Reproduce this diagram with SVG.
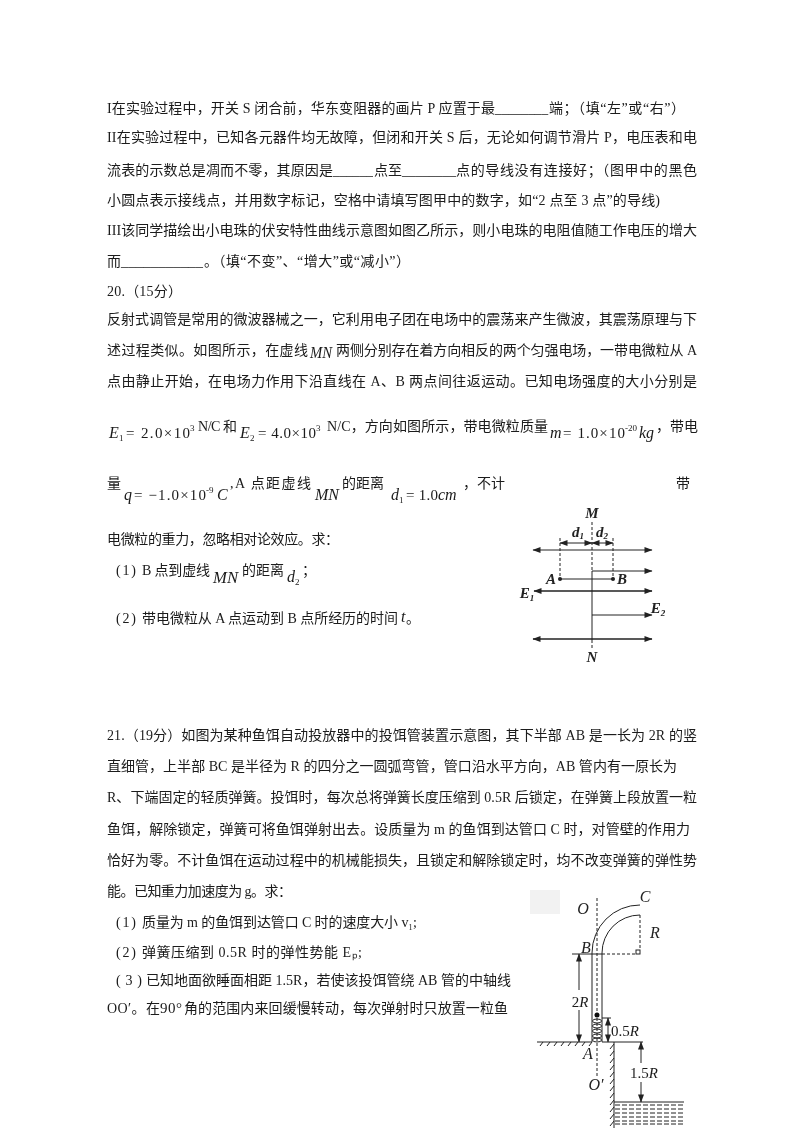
<svg xmlns="http://www.w3.org/2000/svg" width="800" height="1132" viewBox="0 0 800 1132">
<style>
text{font-family:"Liberation Serif","Noto Sans CJK SC",serif;font-size:14px;fill:#1a1a1a}
.m{font-style:italic;font-size:16px}
.n{font-size:15px}
.s{font-size:9px}
.f{font-style:italic;font-size:15px;font-weight:bold;fill:#222}
.l{font-size:16px;fill:#222}
.a{fill:none;stroke:#222;stroke-width:1}
.t{stroke-width:1.6}
.d{stroke-dasharray:3 2}
</style>
<defs>
<filter id="soft" x="0" y="0" width="100%" height="100%"><feGaussianBlur stdDeviation="0.45"/></filter>
<marker id="ah" viewBox="0 0 8 6" refX="7.5" refY="3" markerWidth="9" markerHeight="6" markerUnits="userSpaceOnUse" orient="auto-start-reverse"><path d="M0 0L8 3L0 6Z" fill="#222"/></marker>
</defs>
<rect width="800" height="1132" fill="#fff"/>
<g filter="url(#soft)">
<g id="text-top">
<text x="107" y="113" textLength="388" lengthAdjust="spacing">I在实验过程中，开关 S 闭合前，华东变阻器的画片 P 应置于最</text>
<text x="495" y="113" textLength="53" lengthAdjust="spacingAndGlyphs">________</text>
<text x="549" y="113" textLength="136" lengthAdjust="spacing">端；（填“左”或“右”）</text>
<text x="107" y="142" textLength="590" lengthAdjust="spacing">II在实验过程中，已知各元器件均无故障，但闭和开关 S 后，无论如何调节滑片 P，电压表和电</text>
<text x="107" y="175" textLength="226" lengthAdjust="spacing">流表的示数总是凋而不零，其原因是</text>
<text x="333" y="175" textLength="40" lengthAdjust="spacingAndGlyphs">______</text>
<text x="374" y="175" textLength="28" lengthAdjust="spacing">点至</text>
<text x="402" y="175" textLength="54" lengthAdjust="spacingAndGlyphs">________</text>
<text x="456" y="175" textLength="241" lengthAdjust="spacing">点的导线没有连接好；（图甲中的黑色</text>
<text x="107" y="205" textLength="553" lengthAdjust="spacing">小圆点表示接线点，并用数字标记，空格中请填写图甲中的数字，如“2 点至 3 点”的导线)</text>
<text x="107" y="235" textLength="590" lengthAdjust="spacing">III该同学描绘出小电珠的伏安特性曲线示意图如图乙所示，则小电珠的电阻值随工作电压的增大</text>
<text x="107" y="266" textLength="14" lengthAdjust="spacing">而</text>
<text x="121" y="266" textLength="82" lengthAdjust="spacingAndGlyphs">___________</text>
<text x="204" y="266" textLength="206" lengthAdjust="spacing">。（填“不变”、“增大”或“减小”）</text>
</g>
<g id="question-20">
<text x="107" y="296" textLength="75" lengthAdjust="spacing">20.（15分）</text>
<text x="107" y="324" textLength="590" lengthAdjust="spacing">反射式调管是常用的微波器械之一，它利用电子团在电场中的震荡来产生微波，其震荡原理与下</text>
<text x="107" y="355" textLength="201" lengthAdjust="spacing">述过程类似。如图所示，在虚线</text>
<text class="m" x="310" y="358" textLength="22" lengthAdjust="spacingAndGlyphs">MN</text>
<text x="336" y="355" textLength="361" lengthAdjust="spacing">两侧分别存在着方向相反的两个匀强电场，一带电微粒从 A</text>
<text x="107" y="386" textLength="590" lengthAdjust="spacing">点由静止开始，在电场力作用下沿直线在 A、B 两点间往返运动。已知电场强度的大小分别是</text>
<text class="m" x="109" y="438">E</text><text class="s" x="119" y="441">1</text>
<text class="n" x="126" y="438" textLength="64" lengthAdjust="spacing">= 2.0×10</text><text class="s" x="190" y="431">3</text>
<text x="198" y="431" textLength="39" lengthAdjust="spacing">N/C 和</text>
<text class="m" x="240" y="438">E</text><text class="s" x="250" y="441">2</text>
<text class="n" x="258" y="438" textLength="58" lengthAdjust="spacing">= 4.0×10</text><text class="s" x="316" y="431">3</text>
<text x="327" y="431" textLength="221" lengthAdjust="spacing">N/C，方向如图所示，带电微粒质量</text>
<text class="m" x="550" y="438">m</text>
<text class="n" x="563" y="438" textLength="62" lengthAdjust="spacing">= 1.0×10</text><text class="s" x="625" y="431">-20</text>
<text class="m" x="639" y="438">kg</text>
<text x="656" y="431" textLength="42" lengthAdjust="spacing">，带电</text>
<text x="107" y="488">量</text>
<text class="m" x="124" y="500">q</text>
<text class="n" x="134" y="500" textLength="72" lengthAdjust="spacing">= −1.0×10</text><text class="s" x="206" y="493">-9</text>
<text class="m" x="217" y="500">C</text>
<text x="230" y="488" textLength="81" lengthAdjust="spacing">,A 点距虚线</text>
<text class="m" x="315" y="500" textLength="24" lengthAdjust="spacingAndGlyphs">MN</text>
<text x="342" y="488" textLength="42" lengthAdjust="spacing">的距离</text>
<text class="m" x="391" y="500">d</text><text class="s" x="399" y="503">1</text>
<text class="n" x="406" y="500" textLength="32" lengthAdjust="spacing">= 1.0</text>
<text class="m" x="438" y="500">cm</text>
<text x="463" y="488" textLength="42" lengthAdjust="spacing">，不计</text>
<text x="676" y="488">带</text>
<text x="107" y="544" textLength="232" lengthAdjust="spacing">电微粒的重力，忽略相对论效应。求：</text>
<text x="116" y="575" textLength="20" lengthAdjust="spacing">(1)</text>
<text x="142" y="575" textLength="68" lengthAdjust="spacing">B 点到虚线</text>
<text class="m" x="213" y="583" textLength="25" lengthAdjust="spacingAndGlyphs">MN</text>
<text x="242" y="575" textLength="42" lengthAdjust="spacing">的距离</text>
<text class="m" x="287" y="582">d</text><text class="s" x="295" y="585">2</text>
<text x="302" y="575">；</text>
<text x="116" y="623" textLength="20" lengthAdjust="spacing">(2)</text>
<text x="142" y="623" textLength="256" lengthAdjust="spacing">带电微粒从 A 点运动到 B 点所经历的时间</text>
<text class="m" x="401" y="622" font-size="14">t</text>
<text x="406" y="623">。</text>
</g>
<g id="figure-field">
<g id="connectors-field">
<path class="a d" d="M592 522V571M592 640V648M560 538V579M613 538V579"/>
<path class="a" d="M592 571V640"/>
<path class="a" d="M533 550H652" marker-start="url(#ah)" marker-end="url(#ah)"/>
<path class="a" d="M592 571H652" marker-end="url(#ah)"/>
<path class="a t" d="M534 591H652" marker-start="url(#ah)" marker-end="url(#ah)"/>
<path class="a" d="M592 615H652" marker-end="url(#ah)"/>
<path class="a t" d="M533 639H652" marker-start="url(#ah)" marker-end="url(#ah)"/>
<path class="a" d="M560 543H592" marker-start="url(#ah)" marker-end="url(#ah)"/>
<path class="a" d="M592 543H613" marker-start="url(#ah)" marker-end="url(#ah)"/>
<path class="a" d="M560 579H613" stroke-width="2"/>
</g>
<circle cx="560" cy="579" r="2" fill="#222"/><circle cx="613" cy="579" r="2" fill="#222"/>
<text class="f" x="592" y="518" text-anchor="middle">M</text>
<text class="f" x="578" y="537" text-anchor="middle">d<tspan font-size="9" dy="2">1</tspan></text>
<text class="f" x="602" y="537" text-anchor="middle">d<tspan font-size="9" dy="2">2</tspan></text>
<text class="f" x="551" y="584" text-anchor="middle">A</text>
<text class="f" x="622" y="584" text-anchor="middle">B</text>
<text class="f" x="527" y="598" text-anchor="middle">E<tspan font-size="9" dy="3">1</tspan></text>
<text class="f" x="658" y="613" text-anchor="middle">E<tspan font-size="9" dy="3">2</tspan></text>
<text class="f" x="592" y="662" text-anchor="middle">N</text>
</g>
<g id="question-21">
<text x="107" y="740" textLength="590" lengthAdjust="spacing">21.（19分）如图为某种鱼饵自动投放器中的投饵管装置示意图，其下半部 AB 是一长为 2R 的竖</text>
<text x="107" y="771" textLength="570" lengthAdjust="spacing">直细管，上半部 BC 是半径为 R 的四分之一圆弧弯管，管口沿水平方向，AB 管内有一原长为</text>
<text x="107" y="802" textLength="590" lengthAdjust="spacing">R、下端固定的轻质弹簧。投饵时，每次总将弹簧长度压缩到 0.5R 后锁定，在弹簧上段放置一粒</text>
<text x="107" y="834" textLength="583" lengthAdjust="spacing">鱼饵，解除锁定，弹簧可将鱼饵弹射出去。设质量为 m 的鱼饵到达管口 C 时，对管壁的作用力</text>
<text x="107" y="865" textLength="590" lengthAdjust="spacing">恰好为零。不计鱼饵在运动过程中的机械能损失，且锁定和解除锁定时，均不改变弹簧的弹性势</text>
<text x="107" y="896" textLength="185" lengthAdjust="spacing">能。已知重力加速度为 g。求：</text>
<text x="116" y="927" textLength="20" lengthAdjust="spacing">(1)</text>
<text x="142" y="927" textLength="275" lengthAdjust="spacing">质量为 m 的鱼饵到达管口 C 时的速度大小 v₁;</text>
<text x="116" y="957" textLength="20" lengthAdjust="spacing">(2)</text>
<text x="142" y="957" textLength="220" lengthAdjust="spacing">弹簧压缩到 0.5R 时的弹性势能 Eₚ;</text>
<text x="116" y="985" textLength="26" lengthAdjust="spacing">( 3 )</text>
<text x="146" y="985" textLength="365" lengthAdjust="spacing">已知地面欲睡面相距 1.5R，若使该投饵管绕 AB 管的中轴线</text>
<text x="107" y="1013" textLength="53" lengthAdjust="spacing">OO′。在</text>
<text class="n" x="160" y="1013" textLength="22" lengthAdjust="spacing">90°</text>
<text x="184" y="1013" textLength="324" lengthAdjust="spacing">角的范围内来回缓慢转动，每次弹射时只放置一粒鱼</text>
</g>
<g id="figure-tube">
<rect x="530" y="890" width="30" height="24" fill="#f2f2f2"/>
<g id="connectors-tube">
<path class="a d" d="M597 898V1077"/>
<path class="a" d="M592 1042V953A48 48 0 0 1 640 905"/>
<path class="a" d="M602 1042V953A38 38 0 0 1 640 915"/>
<path class="a" d="M572 954H602"/>
<path class="a d" d="M602 954H636M640 915V950"/>
<rect class="a" x="636" y="950" width="4" height="4"/>
<path class="a" d="M579 990V954" marker-end="url(#ah)"/>
<path class="a" d="M579 1010V1042" marker-end="url(#ah)"/>
<path class="a" d="M602 1018H611"/>
<path class="a" d="M608 1018V1042" marker-start="url(#ah)" marker-end="url(#ah)"/>
<path class="a" d="M641 1063V1042" marker-end="url(#ah)"/>
<path class="a" d="M641 1082V1102" marker-end="url(#ah)"/>
<path class="a" d="M537 1042H592M602 1042H643M614 1042V1128M614 1102H684"/>
<path class="a" stroke-width=".8" d="M540 1046l3-4M547 1046l3-4M554 1046l3-4M561 1046l3-4M568 1046l3-4M575 1046l3-4M582 1046l3-4M589 1046l3-4M610 1049l4-5M610 1056l4-5M610 1063l4-5M610 1070l4-5M610 1077l4-5M610 1084l4-5M610 1091l4-5M610 1098l4-5M610 1105l4-5M610 1112l4-5M610 1119l4-5M610 1126l4-5"/>
<path class="a" stroke-dasharray="5 2" d="M615 1105H684M615 1109H684M615 1113H684M615 1117H684M615 1121H684M615 1124H684"/>
</g>
<g id="spring" class="a">
<ellipse cx="597" cy="1021" rx="4.5" ry="2"/><ellipse cx="597" cy="1026" rx="4.5" ry="2"/><ellipse cx="597" cy="1031" rx="4.5" ry="2"/><ellipse cx="597" cy="1036" rx="4.5" ry="2"/><ellipse cx="597" cy="1040" rx="4.5" ry="2"/>
</g>
<circle cx="597" cy="1015" r="2.5" fill="#111"/>
<text class="m l" x="583" y="914" text-anchor="middle">O</text>
<text class="m l" x="645" y="902" text-anchor="middle">C</text>
<text class="m l" x="655" y="938" text-anchor="middle">R</text>
<text class="m l" x="586" y="953" text-anchor="middle">B</text>
<text x="580" y="1007" text-anchor="middle" font-size="15" style="font-size:15px">2<tspan font-style="italic">R</tspan></text>
<text x="611" y="1036" style="font-size:15px">0.5<tspan font-style="italic">R</tspan></text>
<text class="m l" x="588" y="1059" text-anchor="middle">A</text>
<text class="m l" x="596" y="1090" text-anchor="middle">O′</text>
<text x="644" y="1078" text-anchor="middle" style="font-size:15px">1.5<tspan font-style="italic">R</tspan></text>
</g>
</g>
</svg>
